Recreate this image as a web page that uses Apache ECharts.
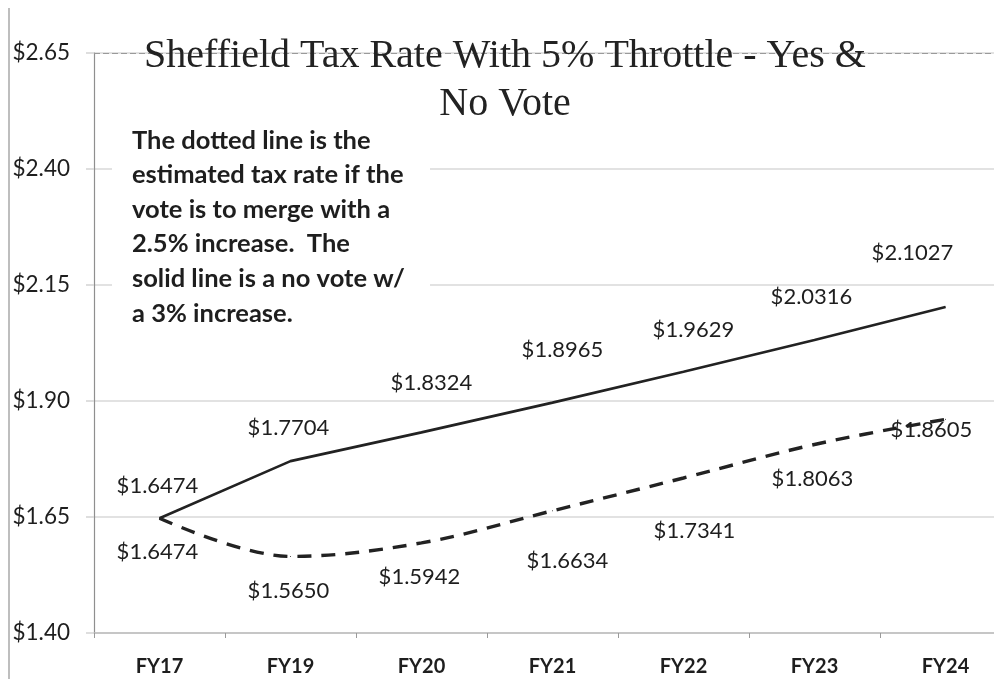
<!DOCTYPE html>
<html>
<head>
<meta charset="utf-8">
<title>Sheffield Tax Rate</title>
<script src="https://cdn.jsdelivr.net/npm/echarts@6/dist/echarts.min.js"></script>
<style>
  html, body { margin: 0; padding: 0; background: #fff; }
  #chart { width: 994px; height: 679px; }
</style>
</head>
<body>
<div id="chart"></div>
<script>
// Fiscal years on the category axis
const fiscalYears = ['FY17', 'FY19', 'FY20', 'FY21', 'FY22', 'FY23', 'FY24'];

// Solid line: no vote, 3% increase
const noVoteRates = [1.6474, 1.7704, 1.8324, 1.8965, 1.9629, 2.0316, 2.1027];

// Dashed line: vote to merge, 2.5% increase
const mergeVoteRates = [1.6474, 1.5650, 1.5942, 1.6634, 1.7341, 1.8063, 1.8605];

// Value axis range and step
const rateMin = 1.40;
const rateMax = 2.65;
const rateStep = 0.25;

const titleLines = ['Sheffield Tax Rate With 5% Throttle - Yes &', 'No Vote'];
const noteLines = [
  'The dotted line is the',
  'estimated tax rate if the',
  'vote is to merge with a',
  '2.5% increase.  The',
  'solid line is a no vote w/',
  'a 3% increase.'
];

// Hand-placed label nudges (pixels from each point)
const solidLabelNudge = [[-2, -32], [-2, -33], [10, -49], [10, -53], [10, -42], [-3, -43], [-33, -54]];
const dashLabelNudge = [[-2, 34], [-2, 34], [-2, 34], [15, 50], [11, 53], [-2, 34], [-14, 11]];

const SANS = 'Lato, "Open Sans", sans-serif';
const INK = '#1e1e1e';

const money = v => '$' + Number(v).toFixed(4);

function labelled(values, nudges) {
  return values.map((v, i) => ({
    value: v,
    label: { offset: nudges[i] }
  }));
}

const chart = echarts.init(document.getElementById('chart'), null, { renderer: 'canvas' });

const valueLabel = {
  show: true,
  position: 'inside',
  formatter: p => money(p.value),
  fontFamily: SANS,
  fontSize: 22,
  color: INK
};

chart.setOption({
  backgroundColor: '#ffffff',
  animation: false,
  grid: {
    left: 94, top: 53, height: 580, width: 917,
    containLabel: false,
    outerBoundsMode: 'none'
  },
  xAxis: {
    type: 'category',
    data: fiscalYears,
    boundaryGap: true,
    axisLine: { show: true, lineStyle: { color: '#bdbdbd', width: 1.5 } },
    axisTick: { show: true, length: 5, inside: false, lineStyle: { color: '#9a9a9a' } },
    axisLabel: {
      margin: 24,
      fontFamily: SANS,
      fontSize: 20,
      fontWeight: 'bold',
      color: INK
    },
    splitLine: { show: false }
  },
  yAxis: {
    type: 'value',
    min: rateMin,
    max: rateMax,
    interval: rateStep,
    axisLine: { show: true, lineStyle: { color: '#8f8f8f', width: 1.2 } },
    axisTick: { show: true, length: 8, lineStyle: { color: '#d4d4d4', width: 1.5 } },
    axisLabel: {
      margin: 24,
      fontFamily: SANS,
      fontSize: 22.5,
      color: INK,
      formatter: v => '$' + Number(v).toFixed(2)
    },
    splitLine: { show: true, lineStyle: { color: '#d9d9d9', width: 1.5 } }
  },
  graphic: [
    // page edge on the far left
    { type: 'line', shape: { x1: 9, y1: 8, x2: 9, y2: 679 }, style: { stroke: '#a8a8a8', lineWidth: 1.5 }, z: 1 },
    // white box behind the note
    { type: 'rect', shape: { x: 112, y: 116, width: 318, height: 204 }, style: { fill: '#ffffff' }, z: 5 },
    {
      type: 'text', left: 132, top: 123, z: 6,
      style: {
        text: noteLines.join('\n'),
        font: 'bold 25.5px ' + SANS,
        lineHeight: 34.6,
        fill: INK
      }
    },
    {
      type: 'text', x: 505, y: 32, z: 6,
      style: {
        text: titleLines.join('\n'),
        font: '40px "Liberation Serif", "DejaVu Serif", serif',
        lineHeight: 48,
        align: 'center',
        fill: '#222'
      }
    }
  ],
  series: [
    {
      name: 'No vote (3%)',
      type: 'line',
      data: labelled(noVoteRates, solidLabelNudge),
      smooth: false,
      symbol: 'circle',
      symbolSize: 1,
      itemStyle: { color: '#222' },
      lineStyle: { color: '#222', width: 2.6, type: 'solid' },
      label: valueLabel,
      // top gridline drawn as a darker dashed rule
      markLine: {
        silent: true,
        symbol: 'none',
        label: { show: false },
        lineStyle: { color: '#9a9a9a', width: 1.2, type: [6, 3] },
        data: [{ yAxis: rateMax }]
      },
      z: 3
    },
    {
      name: 'Merge vote (2.5%)',
      type: 'line',
      data: labelled(mergeVoteRates, dashLabelNudge),
      smooth: 0.35,
      symbol: 'circle',
      symbolSize: 1,
      itemStyle: { color: '#222' },
      lineStyle: { color: '#222', width: 3.4, type: [14, 10] },
      label: valueLabel,
      z: 3
    }
  ]
});
</script>
</body>
</html>
